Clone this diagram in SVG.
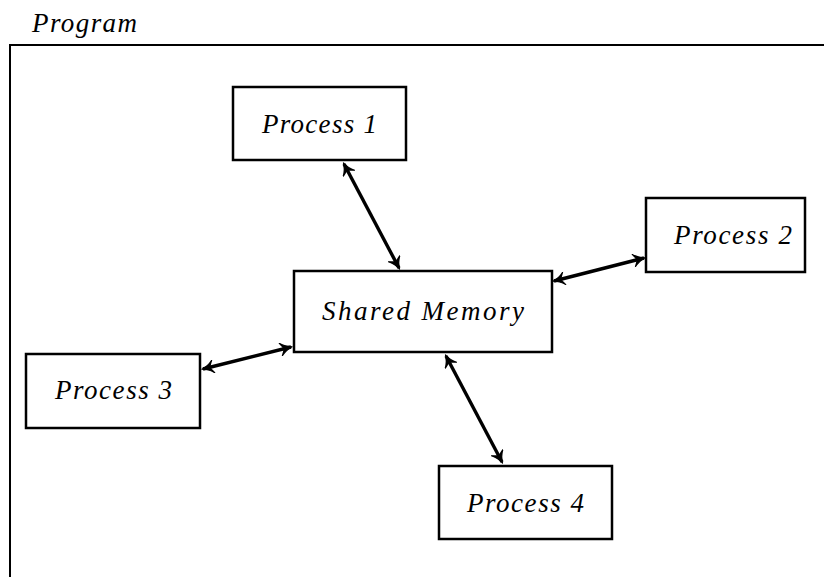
<svg xmlns="http://www.w3.org/2000/svg" width="824" height="577" viewBox="0 0 824 577">
  <style>
    .box { fill: #ffffff; stroke: #000000; stroke-width: 2.5; }
    .frame { fill: none; stroke: #000000; stroke-width: 2; }
    .label { font-family: "Liberation Serif", "DejaVu Serif", serif; font-style: italic; font-size: 27px; fill: #000000; }
    .link { fill: none; stroke: #000000; stroke-width: 3.4; marker-start: url(#tip); marker-end: url(#tip); }
  </style>
  <defs>
    <marker id="tip" viewBox="-1 -6 12 12" refX="9" refY="0" markerWidth="14" markerHeight="14" markerUnits="userSpaceOnUse" orient="auto-start-reverse">
      <path d="M 10 0 C 6 -1 2 -3.5 0 -5.5 C 1.5 -3 2.5 -1.5 3 0 C 2.5 1.5 1.5 3 0 5.5 C 2 3.5 6 1 10 0 Z" fill="#000000" stroke="#000000" stroke-width="1" stroke-linejoin="round"/>
    </marker>
  </defs>

  <!-- enclosing program frame -->
  <g id="program">
    <path class="frame" d="M 10 577 L 10 45 L 824 45"/>
    <text class="label" x="32" y="32" textLength="105" lengthAdjust="spacing">Program</text>
  </g>

  <!-- connectors -->
  <g id="connectors">
    <line class="link" x1="344" y1="164" x2="399" y2="268"/>
    <line class="link" x1="554" y1="281" x2="644" y2="258"/>
    <line class="link" x1="203" y1="369" x2="291" y2="347"/>
    <line class="link" x1="446" y1="356" x2="502" y2="462"/>
  </g>

  <g id="shared-memory">
    <rect class="box" x="294" y="271" width="258" height="81"/>
    <text class="label" x="322" y="320" textLength="202" lengthAdjust="spacing">Shared Memory</text>
  </g>
  <g id="process-1">
    <rect class="box" x="233" y="87" width="173" height="73"/>
    <text class="label" x="262" y="133" textLength="115" lengthAdjust="spacing">Process 1</text>
  </g>
  <g id="process-2">
    <rect class="box" x="646" y="198" width="159" height="74"/>
    <text class="label" x="674" y="244" textLength="118" lengthAdjust="spacing">Process 2</text>
  </g>
  <g id="process-3">
    <rect class="box" x="26" y="354" width="174" height="74"/>
    <text class="label" x="55" y="399" textLength="117" lengthAdjust="spacing">Process 3</text>
  </g>
  <g id="process-4">
    <rect class="box" x="439" y="466" width="173" height="73"/>
    <text class="label" x="467" y="512" textLength="117" lengthAdjust="spacing">Process 4</text>
  </g>
</svg>
